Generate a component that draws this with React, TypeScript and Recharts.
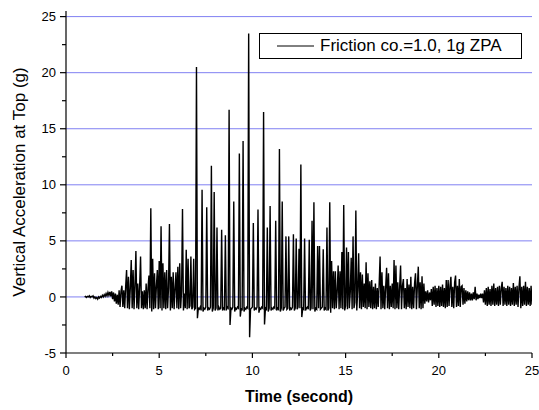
import { LineChart, Line, XAxis, YAxis, CartesianGrid, Legend, Label } from "recharts";

// sampling of the record (seconds)
const T_START = 1.0;
const DT = 0.05;

// t = 1.00 .. 2.95  (quiet start)
const quietOnset = [
  0.0, 0.05, -0.05, 0.05, 0.0, 0.1, -0.05, 0.05, 0.0, 0.1,
  -0.1, 0.0, -0.15, -0.05, -0.2, 0.0, -0.1, 0.05, -0.05, 0.15,
  0.0, 0.2, 0.05, 0.3, 0.1, 0.4, 0.15, 0.45, 0.05, 0.5,
  -0.2, 0.4, -0.4, 0.3, -0.6, 0.2, -0.7, 0.6, -0.9, 0.5,
];

// t = 3.00 .. 6.95  (build-up, first uplift impacts)
const rampUp = [
  1.0, -0.9, 0.6, -1.0, 0.9, 2.4, -1.0, 1.8, -1.1, 0.8,
  3.3, -1.0, 2.4, -1.1, 1.0, 4.1, -1.0, 1.2, -1.1, 0.9,
  3.6, -1.0, 0.5, -1.1, 0.6, -1.0, 1.2, -1.1, 0.8, 1.9,
  -1.0, 7.9, -1.3, 3.4, -1.1, 2.1, -1.0, 1.0, 2.4, -1.1,
  3.2, -1.0, 6.3, -1.2, 3.0, -1.0, 2.2, -1.1, 2.4, -1.0,
  0.8, 6.5, -1.2, 1.8, -1.0, 2.2, -1.1, 0.7, 2.2, -1.0,
  2.7, -1.1, 3.0, -1.0, 0.5, 7.85, -1.2, 0.3, -1.0, 4.2,
  -1.1, 3.4, -1.0, -0.8, 3.6, -1.1, -0.9, 3.4, -1.1, -1.0,
];

// t = 7.00 .. 15.95  (strong impact spikes)
const impactTrain = [
  20.5, -1.9, -1.0, -1.1, -0.9, -1.2, 9.55, -1.3, -1.0, -1.1,
  -0.9, 8.0, -1.2, -1.0, -1.1, -0.9, 11.7, -1.3, -1.0, 9.35,
  -1.2, -1.0, 6.2, -1.2, -0.9, -1.1, -1.0, 6.0, -1.2, -1.0,
  -1.1, 5.5, -1.2, -0.9, -1.0, 16.7, -2.5, -1.0, -1.1, -0.9,
  8.5, -1.3, -1.0, -1.1, -0.9, -1.0, 12.8, -1.75, -1.0, -1.2,
  13.9, -1.3, -1.0, -1.1, -0.9, -1.0, 23.5, -3.6, -1.1, -1.0,
  -0.9, 6.6, -1.2, -1.0, -1.1, -0.9, 7.8, -1.4, -1.0, -1.1,
  -0.9, -1.0, 16.5, -2.45, -1.0, -1.1, 6.2, -1.3, -1.0, 8.1,
  -1.2, -1.0, -1.1, -0.9, -1.0, 6.8, -1.2, -1.0, -1.1, 13.2,
  -1.3, -1.0, 8.5, -1.2, -1.0, -0.9, 5.4, -1.1, -1.0, 5.4,
  -1.2, -1.0, -1.1, -0.9, 5.6, -1.2, -1.0, 5.2, -1.1, -0.9,
  4.3, -1.0, 11.8, -1.8, -1.0, -1.1, 5.2, -1.2, -1.0, -0.9,
  -1.1, 5.1, -1.2, -1.0, 6.8, -1.1, 8.45, -1.3, -1.0, -1.1,
  4.55, -1.0, 4.55, -1.1, -1.0, -0.9, 4.25, -1.2, -1.0, -1.1,
  6.2, -1.2, -1.0, 8.45, -1.4, 3.2, -1.0, 2.3, -1.1, 2.3,
  -1.0, 0.5, 2.8, -1.1, 2.3, -1.0, 4.0, -1.1, 8.2, -1.2,
  -0.8, 4.4, -1.1, 4.0, -1.0, 0.4, 3.5, -1.1, 5.4, -1.0,
  -0.5, 7.7, -1.2, 0.6, 3.9, -1.0, 2.2, -1.1, 2.0, -0.9,
];

// t = 16.00 .. 25.00  (residual vibration)
const tailNoise = [
  1.2, -1.0, 3.1, -1.1, 2.1, -0.9, 1.4, -1.0, 1.5, -1.1,
  0.9, -1.0, 1.2, -1.1, 0.8, -0.9, 1.1, 3.6, -1.1, 2.2,
  -1.0, 1.0, -1.1, 0.9, 2.6, -1.0, 2.1, -1.1, 1.0, -0.9,
  1.2, -1.0, 3.3, -1.1, 2.8, -1.0, 1.3, -1.1, 0.9, 2.8,
  -1.1, 1.0, 1.6, -1.0, 0.8, -1.1, 1.6, -0.9, 1.1, -1.0,
  1.8, -1.1, 0.9, -1.0, 1.2, 2.1, -1.1, 1.0, 2.7, -1.0,
  1.3, -1.1, 1.85, -1.0, 1.2, -0.6, 0.5, -0.4, 0.6, -0.5,
  0.4, -0.3, 0.7, -0.8, 0.9, -0.7, 1.0, -0.9, 0.8, -0.8,
  1.0, -0.9, 0.9, -0.8, 1.1, -0.9, 0.8, -1.0, 1.5, -0.9,
  1.5, -0.8, 1.0, 1.8, -0.9, 0.9, -1.0, 1.3, 1.9, -0.9,
  1.0, -0.8, 1.6, -0.9, 0.9, 1.0, -0.7, 0.8, -0.6, 0.6,
  -0.4, 0.5, -0.3, 0.4, -0.3, 0.3, -0.3, 0.4, -0.2, 0.9,
  -0.3, 0.3, -0.2, 0.2, -0.1, 0.3, -0.1, 0.3, -0.5, 0.6,
  -0.7, 0.8, -0.8, 0.9, -0.7, 0.7, -0.8, 1.0, -0.7, 1.2,
  -0.8, 0.8, -0.7, 0.9, -0.8, 1.0, -0.7, 0.8, 1.35, -0.8,
  0.9, -0.7, 0.8, -0.8, 1.0, -0.7, 0.9, -0.8, 0.8, -0.7,
  1.25, -0.8, 0.9, -0.7, 1.0, -0.9, 0.8, 1.85, -1.0, 0.9,
  -0.8, 1.0, -0.7, 1.35, -0.8, 0.9, -0.7, 0.8, -0.8, 1.0,
  -0.7,
];

const xTicks = [0, 2.5, 5, 7.5, 10, 12.5, 15, 17.5, 20, 22.5, 25];
const yTicks = [-5, -2.5, 0, 2.5, 5, 7.5, 10, 12.5, 15, 17.5, 20, 22.5, 25];
const gridValues = [0, 5, 10, 15, 20, 25];
const seriesName = "Friction co.=1.0, 1g ZPA";

const signal = [...quietOnset, ...rampUp, ...impactTrain, ...tailNoise];
const data = signal.map((v, i) => ({ t: +(T_START + i * DT).toFixed(2), acc: v }));

const FONT = "'Liberation Sans', Arial, sans-serif";

function XTick({ x, y, payload }: any) {
  const major = payload.value % 5 === 0;
  return (
    <g>
      <line x1={x} y1={y} x2={x} y2={y + (major ? 5 : 3)} stroke="#000" strokeWidth={1.2} />
      {major && (
        <text x={x} y={y + 22} textAnchor="middle" fontSize={13} fontFamily={FONT} fill="#000">
          {payload.value}
        </text>
      )}
    </g>
  );
}

function YTick({ x, y, payload }: any) {
  const major = payload.value % 5 === 0;
  return (
    <g>
      <line x1={x - (major ? 6 : 4)} y1={y} x2={x} y2={y} stroke="#000" strokeWidth={1.2} />
      {major && (
        <text x={x - 10} y={y + 4.6} textAnchor="end" fontSize={13} fontFamily={FONT} fill="#000">
          {payload.value}
        </text>
      )}
    </g>
  );
}

function LegendBox() {
  return (
    <div
      style={{
        width: 263,
        height: 26,
        boxSizing: "border-box",
        border: "1px solid #000",
        background: "#fff",
        display: "flex",
        alignItems: "center",
        fontFamily: FONT,
        fontSize: 17,
        color: "#000",
      }}
    >
      <svg width={37} height={4} style={{ marginLeft: 17, marginRight: 6 }}>
        <line x1={0} y1={2} x2={37} y2={2} stroke="#000" strokeWidth={1} />
      </svg>
      <span style={{ whiteSpace: "nowrap" }}>{seriesName}</span>
    </div>
  );
}

export default function App() {
  return (
    <div style={{ position: "absolute", left: 0, top: 0, width: 539, height: 410, background: "#fff" }}>
      <LineChart width={539} height={410} data={data} margin={{ top: 11, right: 7, bottom: 0, left: 0 }}>
        <CartesianGrid vertical={false} horizontalValues={gridValues} stroke="#8080f2" strokeWidth={1} />
        <XAxis
          dataKey="t"
          type="number"
          domain={[0, 25]}
          ticks={xTicks}
          interval={0}
          height={57}
          tickSize={0}
          tickMargin={0}
          tick={<XTick />}
          axisLine={{ stroke: "#000", strokeWidth: 1.2 }}
          allowDataOverflow
        >
          <Label
            content={({ viewBox }: any) => (
              <text
                x={viewBox.x + viewBox.width / 2}
                y={viewBox.y + 49}
                textAnchor="middle"
                fontSize={16}
                fontWeight="bold"
                fontFamily={FONT}
                fill="#000"
              >
                Time (second)
              </text>
            )}
          />
        </XAxis>
        <XAxis
          xAxisId="top"
          orientation="top"
          type="number"
          domain={[0, 25]}
          height={0}
          tick={false}
          tickLine={false}
          axisLine={{ stroke: "#000", strokeWidth: 1.2 }}
        />
        <YAxis
          type="number"
          domain={[-5, 25.5]}
          ticks={yTicks}
          interval={0}
          width={66}
          tickSize={0}
          tickMargin={0}
          tick={<YTick />}
          axisLine={{ stroke: "#000", strokeWidth: 1.2 }}
          allowDataOverflow
        >
          <Label
            content={({ viewBox }: any) => {
              const cx = 19;
              const cy = viewBox.y + viewBox.height / 2;
              return (
                <text
                  x={cx}
                  y={cy}
                  transform={`rotate(-90 ${cx} ${cy})`}
                  textAnchor="middle"
                  dominantBaseline="central"
                  fontSize={17}
                  fontFamily={FONT}
                  fill="#000"
                >
                  Vertical Acceleration at Top (g)
                </text>
              );
            }}
          />
        </YAxis>
        <YAxis
          yAxisId="right"
          orientation="right"
          type="number"
          domain={[-5, 25.5]}
          width={0}
          tick={false}
          tickLine={false}
          axisLine={{ stroke: "#000", strokeWidth: 1.2 }}
        />
        <Legend
          layout="horizontal"
          verticalAlign="middle"
          align="center"
          content={<LegendBox />}
          wrapperStyle={{ position: "absolute", left: 259, top: 33, width: 263 }}
        />
        <Line
          type="linear"
          dataKey="acc"
          name={seriesName}
          stroke="#000"
          strokeWidth={1.4}
          dot={false}
          activeDot={false}
          isAnimationActive={false}
        />
      </LineChart>
    </div>
  );
}
